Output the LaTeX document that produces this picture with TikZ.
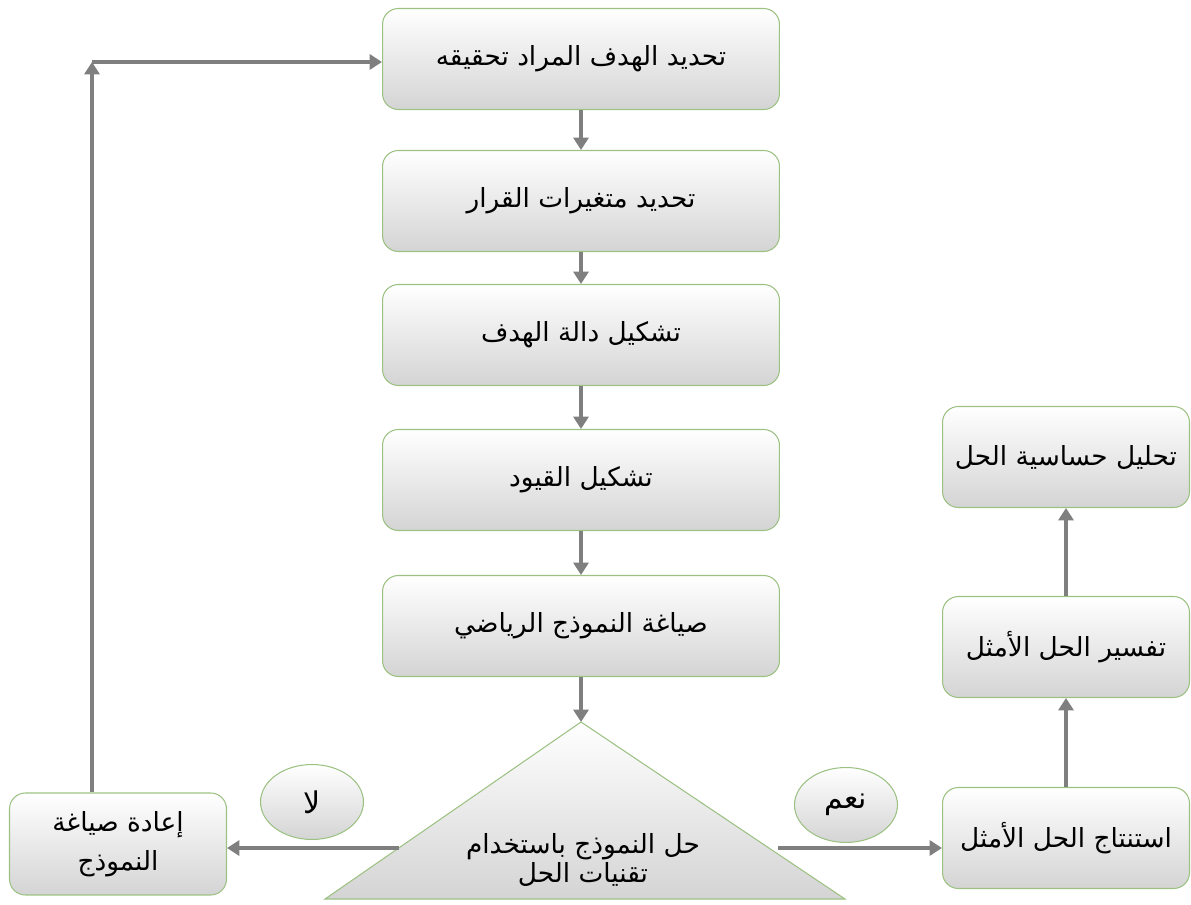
\documentclass[tikz,border=0pt]{standalone}
\usepackage{fontspec}
\newfontfamily\arabicfont[Script=Arabic]{DejaVu Sans}
\TeXXeTstate=1
\usepackage{tikz}
\usetikzlibrary{arrows.meta, positioning, shapes.geometric, calc}
\definecolor{boxline}{HTML}{9CC283}
\definecolor{arrowgray}{HTML}{7F7F7F}
\definecolor{shadegray}{HTML}{D4D4D4}

\begin{document}
\begin{tikzpicture}[x=0.02cm, y=-0.02cm,
    stage/.style={draw=boxline, line width=0.6pt, rounded corners=9pt,
      top color=white, bottom color=shadegray, align=center,
      font=\arabicfont\fontsize{15}{22}\selectfont},
    wide/.style={stage, minimum width=7.94cm, minimum height=2.02cm},
    side/.style={stage, minimum width=4.94cm, minimum height=2.02cm},
    answer/.style={ellipse, draw=boxline, line width=0.6pt, inner sep=0pt,
      top color=white, bottom color=shadegray,
      minimum width=2.06cm, minimum height=1.5cm,
      font=\arabicfont\fontsize{17}{19}\selectfont},
    arr/.style={draw=arrowgray, line width=2.4pt,
      -{Triangle[length=7pt, width=8.5pt]}}]
  \useasboundingbox (0,0) rectangle (1191,905);

  % main column
  \node[wide] (b1) at (581,59)  {\beginR تحديد الهدف المراد تحقيقه\endR};
  \node[wide] (b2) at (581,201) {\beginR تحديد متغيرات القرار\endR};
  \node[wide] (b3) at (581,335) {\beginR تشكيل دالة الهدف\endR};
  \node[wide] (b4) at (581,480) {\beginR تشكيل القيود\endR};
  \node[wide] (b5) at (581,626) {\beginR صياغة النموذج الرياضي\endR};

  % solving step
  \coordinate (apex) at (581,722);
  \coordinate (bl) at (325,899);
  \coordinate (br) at (845,899);
  \path[draw=boxline, line width=0.6pt, top color=white, bottom color=shadegray]
    (apex) -- (bl) -- (br) -- cycle;
  \node[align=center, font=\arabicfont\fontsize{15}{17}\selectfont] (solve) at (583,860)
    {\beginR حل النموذج باستخدام\endR\\ \beginR تقنيات الحل\endR};
  \coordinate (tl) at ($(bl)!0.288!(apex)$);
  \coordinate (tr) at (778,848);

  % left and right branches
  \node[stage, minimum width=4.34cm, minimum height=2.04cm] (redo) at (118,844)
    {\beginR إعادة صياغة\endR\\ \beginR النموذج\endR};
  \node[side] (deduce) at (1066,838) {\beginR استنتاج الحل الأمثل\endR};
  \node[side] (interp) at (1066,647) {\beginR تفسير الحل الأمثل\endR};
  \node[side] (sens)   at (1066,457) {\beginR تحليل حساسية الحل\endR};
  \node[answer] (no)  at (312,802) {\beginR لا\endR};
  \node[answer] (yes) at (846,805) {\beginR نعم\endR};
  \coordinate (turn) at (92,62);

  \foreach \a/\b in {b1/b2, b2/b3, b3/b4, b4/b5}
    \draw[arr] (\a) -- (\b);
  \draw[arr] (b5.south -| apex) -- (apex);
  \draw[arr] (tl) -- (tl -| redo.east);
  \draw[arr] (redo.north -| turn) -- (turn);
  \draw[arr] (turn) -- (turn -| b1.west);
  \draw[arr] (tr) -- (tr -| deduce.west);
  \draw[arr] (deduce) -- (interp);
  \draw[arr] (interp) -- (sens);
\end{tikzpicture}
\end{document}
